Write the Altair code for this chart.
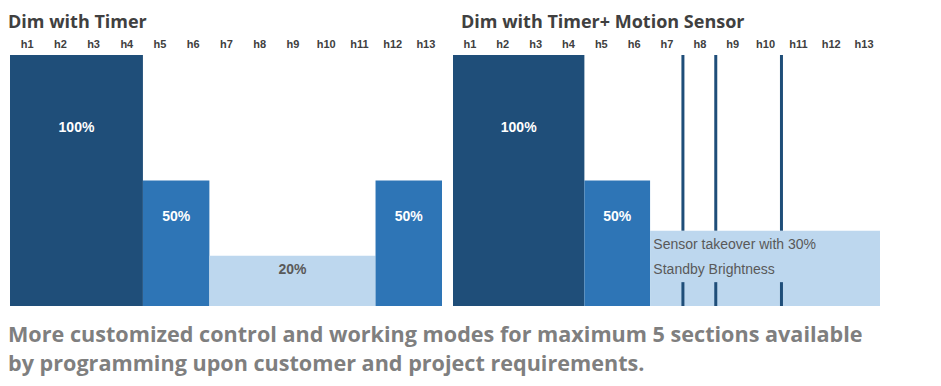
import json
import altair as alt
import pandas as pd

# ---- data ----
hours = ["h1", "h2", "h3", "h4", "h5", "h6", "h7", "h8", "h9", "h10", "h11", "h12", "h13"]

left_start = [0, 4, 6, 11]
left_end = [4, 6, 11, 13]
left_level = [100, 50, 20, 50]
left_tone = ["dark", "mid", "light", "mid"]
left_label = ["100%", "50%", "20%", "50%"]

right_start = [0, 4, 6]
right_end = [4, 6, 13]
right_level = [100, 50, 30]
right_tone = ["dark", "mid", "light"]
right_label = ["100%", "50%", ""]

sensor_hours = [7, 8, 10]
sensor_lo = [30, 0]
sensor_hi = [100, 9.5]
sensor_note = "Sensor takeover with 30%\nStandby Brightness"

titles = ["Dim with Timer", "Dim with Timer+ Motion Sensor"]
footer = [
    "More customized control and working modes for maximum 5 sections available",
    "by programming upon customer and project requirements.",
]

tones = ["dark", "mid", "light"]
tone_colors = ["#1f4e79", "#2e75b6", "#bdd7ee"]

# ---- helpers ----
label_expr = "%s[floor(datum.value)]" % json.dumps(hours)
tick_vals = [i + 0.5 for i in range(len(hours))]

xscale = alt.Scale(domain=[0, len(hours)], nice=False, zero=False)
yscale = alt.Scale(domain=[0, 100], nice=False)

x_axis = alt.Axis(
    orient="top", values=tick_vals, labelExpr=label_expr, domain=False, ticks=False,
    grid=False, title=None, labelFont="Liberation Sans", labelFontSize=11,
    labelFontWeight="bold", labelColor="#404040", labelPadding=6,
    labelOverlap=False, labelBound=False, labelFlush=False,
)


def panel(start, end, level, tone, label, title, dx):
    df = pd.DataFrame({"start": start, "end": end, "level": level, "tone": tone, "label": label})
    base = alt.Chart(df)
    bars = base.mark_rect().encode(
        x=alt.X("start:Q", scale=xscale, axis=x_axis),
        x2="end:Q",
        y=alt.Y("level:Q", scale=yscale, axis=None),
        y2=alt.datum(0),
        color=alt.Color("tone:N", scale=alt.Scale(domain=tones, range=tone_colors), legend=None),
    )
    texts = base.transform_calculate(
        mid="(datum.start + datum.end) / 2", ly="datum.level * 0.71"
    ).mark_text(font="Liberation Sans", fontSize=14, fontWeight="bold").encode(
        x=alt.X("mid:Q", scale=xscale, axis=x_axis),
        y=alt.Y("ly:Q", scale=yscale, axis=None),
        text="label:N",
        color=alt.condition("datum.tone == 'light'", alt.value("#595959"), alt.value("white")),
    )
    ttl = alt.TitleParams(
        text=title, anchor="start", font="Open Sans", fontSize=18, fontWeight="bold",
        color="#404040", dx=dx, offset=6, limit=0,
    )
    return bars, texts, ttl


lb, lt, ltitle = panel(left_start, left_end, left_level, left_tone, left_label, titles[0], -2)
left = alt.layer(lb, lt).properties(width=432, height=251, title=ltitle)

rb, rt, rtitle = panel(right_start, right_end, right_level, right_tone, right_label, titles[1], 8)

rows = []
for h in sensor_hours:
    for lo, hi in zip(sensor_lo, sensor_hi):
        rows.append({"hour": h, "lo": lo, "hi": hi})
sensor_df = pd.DataFrame(rows)
rules = alt.Chart(sensor_df).mark_rule(color="#1f4e79", strokeWidth=3).encode(
    x=alt.X("hour:Q", scale=xscale, axis=x_axis),
    y=alt.Y("lo:Q", scale=yscale, axis=None),
    y2="hi:Q",
)
note = alt.Chart(pd.DataFrame({"t": [sensor_note]})).mark_text(
    align="left", baseline="middle", font="Liberation Sans", fontSize=14,
    color="#595959", lineBreak="\n", lineHeight=25,
).encode(
    x=alt.datum(6.1, scale=xscale, axis=x_axis),
    y=alt.datum(24.5, scale=yscale, axis=None),
    text="t:N",
)
right = alt.layer(rb, rules, rt, note).properties(width=427, height=251, title=rtitle)

chart = alt.hconcat(left, right, spacing=11).properties(
    title=alt.TitleParams(
        text=footer, orient="bottom", anchor="start", font="Open Sans", fontSize=21.6,
        fontWeight="bold", color="#7f7f7f", lineHeight=29.5, offset=17,
    ),
    padding={"top": 6, "left": 0, "right": 0, "bottom": 0},
).configure_view(stroke=None)

chart.save("out.html", embed_options={"renderer": "svg", "actions": False})
